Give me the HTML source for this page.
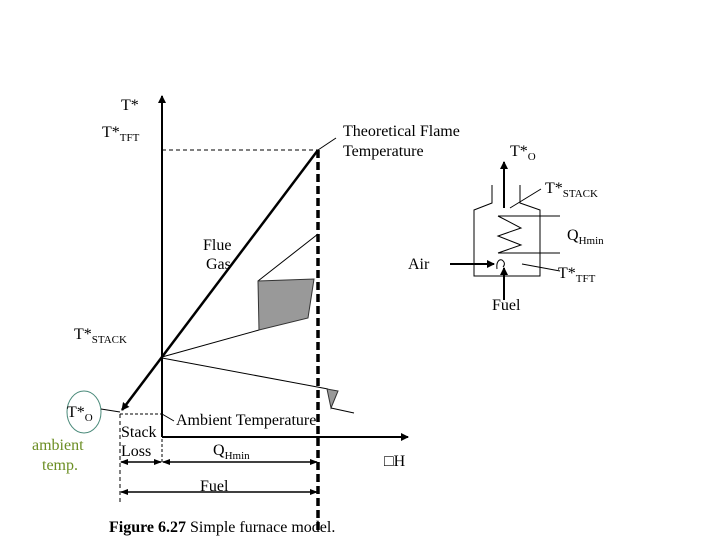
<!DOCTYPE html>
<html><head><style>
body{margin:0;background:#fff;}
svg{display:block;}
text{font-family:"Liberation Serif",serif;font-size:16px;fill:#000;}
</style></head><body>
<svg width="720" height="540" viewBox="0 0 720 540" xmlns="http://www.w3.org/2000/svg">
<defs>
<marker id="ah" markerWidth="8" markerHeight="8" refX="7" refY="4" orient="auto" markerUnits="userSpaceOnUse"><path d="M0,0 L8,4 L0,8 z" fill="#000"/></marker>
<marker id="ahs" markerWidth="8" markerHeight="8" refX="7" refY="4" orient="auto-start-reverse" markerUnits="userSpaceOnUse"><path d="M0,1 L8,4 L0,7 z" fill="#000"/></marker>
</defs>
<!-- axes -->
<line x1="162" y1="437" x2="162" y2="96" stroke="#000" stroke-width="2" marker-end="url(#ah)"/>
<line x1="162" y1="437" x2="408" y2="437" stroke="#000" stroke-width="2" marker-end="url(#ah)"/>
<!-- dashed TFT horizontal -->
<line x1="162" y1="150" x2="318" y2="150" stroke="#000" stroke-width="1" stroke-dasharray="4,3"/>
<!-- thick dashed vertical -->
<line x1="318" y1="150" x2="318" y2="530" stroke="#000" stroke-width="3.5" stroke-dasharray="8,4"/>
<!-- flue gas line -->
<line x1="318" y1="150" x2="122" y2="410" stroke="#000" stroke-width="2.5" marker-end="url(#ah)"/>
<line x1="318" y1="150" x2="336" y2="138" stroke="#000" stroke-width="1"/>
<!-- air lines -->
<line x1="162" y1="357" x2="259" y2="330" stroke="#000" stroke-width="1"/>
<line x1="258" y1="281" x2="318" y2="234" stroke="#000" stroke-width="1"/>
<polygon points="258,281 314,279 308,318 259,330" fill="#999" stroke="#333" stroke-width="1"/>
<line x1="162" y1="358" x2="328" y2="389" stroke="#000" stroke-width="1"/>
<polygon points="327,389 338,391 331,408" fill="#999" stroke="#333" stroke-width="1"/>
<line x1="331" y1="408" x2="354" y2="413" stroke="#000" stroke-width="1"/>
<!-- T*O circle -->
<ellipse cx="84" cy="412" rx="17" ry="21" fill="none" stroke="#4a8a7a" stroke-width="1"/>
<line x1="101" y1="409" x2="120" y2="412" stroke="#000" stroke-width="1"/>
<!-- ambient dashed -->
<line x1="120" y1="414" x2="162" y2="414" stroke="#000" stroke-width="1" stroke-dasharray="3,2"/>
<line x1="162" y1="414" x2="174" y2="421" stroke="#000" stroke-width="1"/>
<line x1="120" y1="414" x2="120" y2="505" stroke="#000" stroke-width="1" stroke-dasharray="4,3"/>
<line x1="162" y1="414" x2="162" y2="462" stroke="#000" stroke-width="1" stroke-dasharray="3,2"/>
<!-- dimension arrows -->
<line x1="121" y1="462" x2="161" y2="462" stroke="#000" stroke-width="1.5" marker-start="url(#ahs)" marker-end="url(#ahs)"/>
<line x1="163" y1="462" x2="317" y2="462" stroke="#000" stroke-width="1.5" marker-start="url(#ahs)" marker-end="url(#ahs)"/>
<line x1="121" y1="492" x2="317" y2="492" stroke="#000" stroke-width="1.5" marker-start="url(#ahs)" marker-end="url(#ahs)"/>
<!-- furnace -->
<g stroke="#000" stroke-width="1" fill="none">
<polyline points="492,185 492,203 474,210 474,276 540,276 540,210 520,203 520,185"/>
<polyline points="498,216 560,216"/>
<polyline points="498,216 521,228 498,236 521,245 498,253"/>
<polyline points="498,253 560,253"/>
<line x1="510" y1="208" x2="541" y2="189"/>
<line x1="522" y1="264" x2="560" y2="271"/>
<path d="M497,269 C496,262 499,259 502,260 C505,262 505,265 503,267"/>
</g>
<line x1="504" y1="208" x2="504" y2="162" stroke="#000" stroke-width="2" marker-end="url(#ah)"/>
<line x1="450" y1="264" x2="494" y2="264" stroke="#000" stroke-width="2" marker-end="url(#ah)"/>
<line x1="504" y1="300" x2="504" y2="268" stroke="#000" stroke-width="2" marker-end="url(#ah)"/>
<!-- text -->
<text x="121" y="110">T*</text>
<text x="102" y="137">T*<tspan font-size="11" dy="4">TFT</tspan></text>
<text x="343" y="136">Theoretical Flame</text>
<text x="343" y="156">Temperature</text>
<text x="510" y="156">T*<tspan font-size="11" dy="4">O</tspan></text>
<text x="545" y="193">T*<tspan font-size="11" dy="4">STACK</tspan></text>
<text x="567" y="240">Q<tspan font-size="11" dy="4">Hmin</tspan></text>
<text x="558" y="278">T*<tspan font-size="11" dy="4">TFT</tspan></text>
<text x="203" y="250">Flue</text>
<text x="206" y="269">Gas</text>
<text x="408" y="269">Air</text>
<text x="492" y="310">Fuel</text>
<text x="74" y="339">T*<tspan font-size="11" dy="4">STACK</tspan></text>
<text x="67" y="417">T*<tspan font-size="11" dy="4">O</tspan></text>
<text x="32" y="450" style="fill:#6b8e23">ambient</text>
<text x="42" y="470" style="fill:#6b8e23">temp.</text>
<text x="121" y="437">Stack</text>
<text x="121" y="456">Loss</text>
<text x="176" y="425">Ambient Temperature</text>
<text x="213" y="455">Q<tspan font-size="11" dy="4">Hmin</tspan></text>
<text x="200" y="491">Fuel</text>
<text x="384" y="466">□H</text>
<text x="109" y="532" font-size="15"><tspan font-weight="bold">Figure 6.27</tspan>  Simple furnace model.</text>
</svg>
</body></html>
